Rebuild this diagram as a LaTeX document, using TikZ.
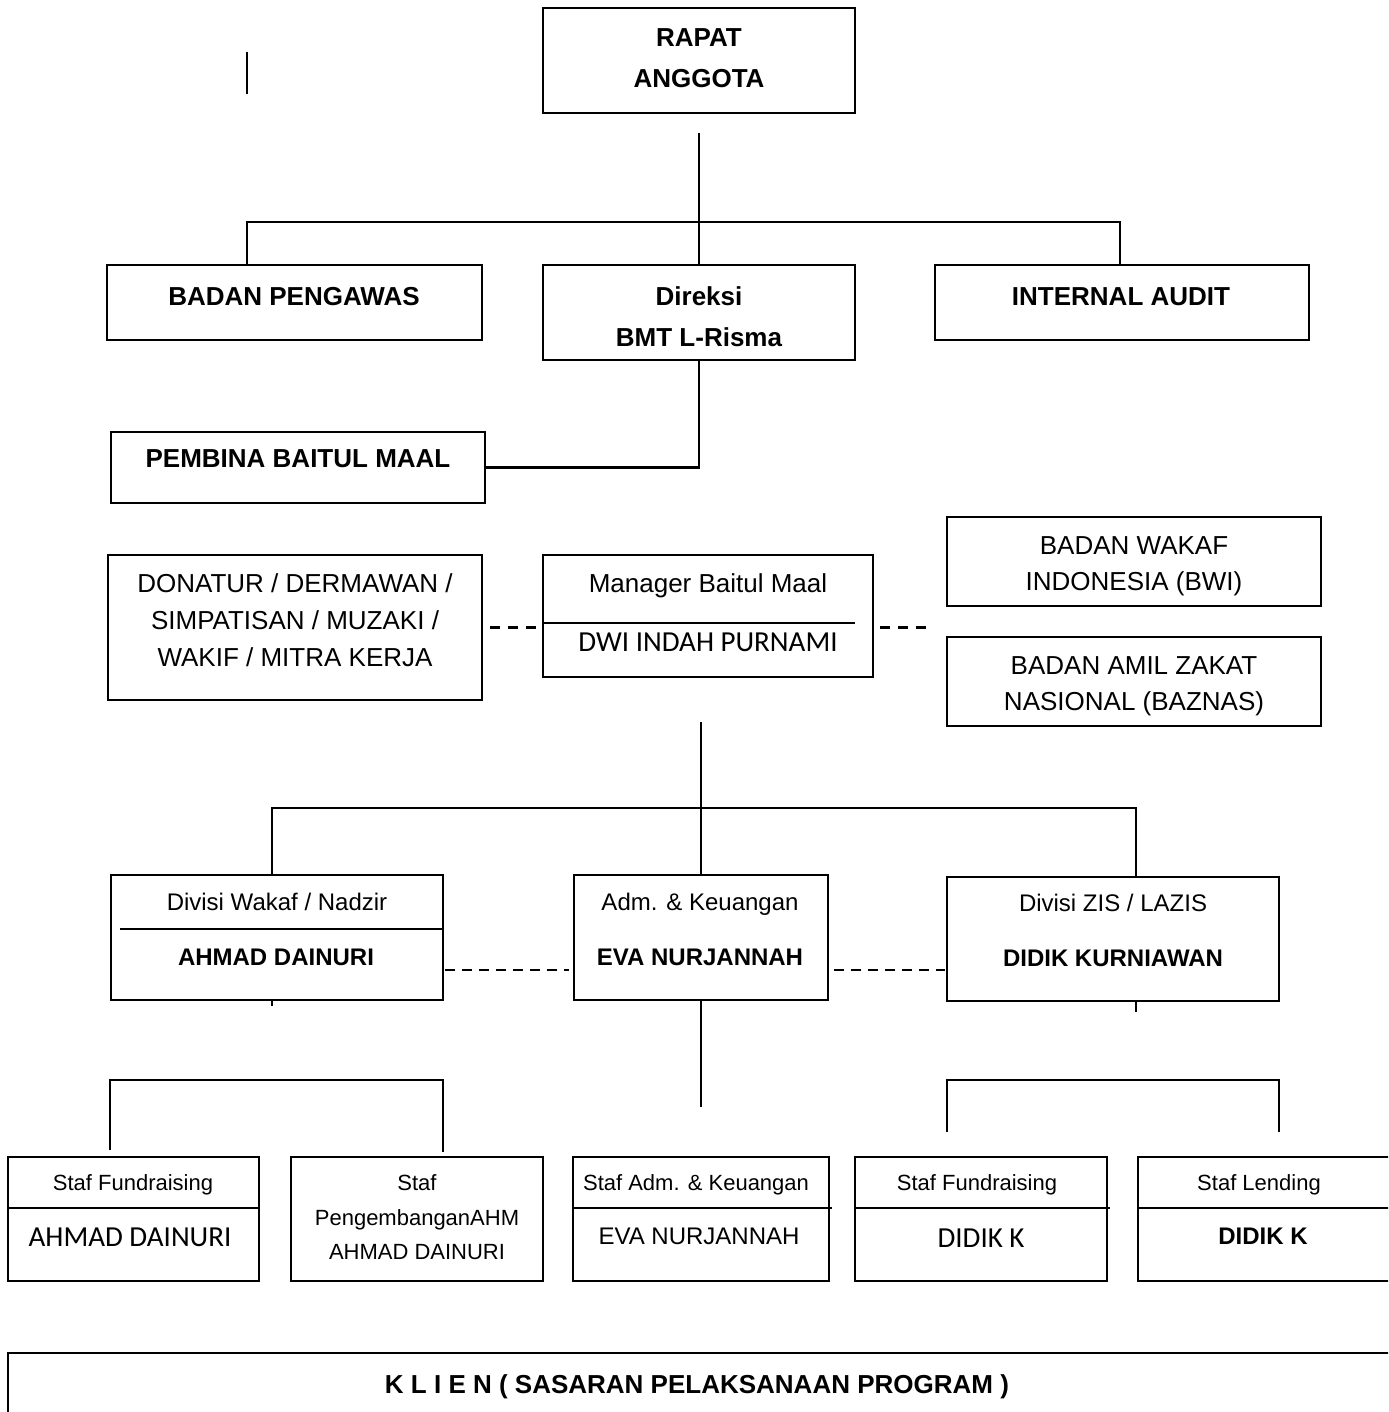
\documentclass[tikz,border=0pt]{standalone}
\usepackage{fontspec}
\setmainfont{Liberation Sans}
\newfontfamily\calibri{Carlito}
\usetikzlibrary{positioning}

\begin{document}
\begin{tikzpicture}[x=1pt,y=-1pt,
  orgbox/.style={draw,line width=2.2pt,inner sep=0pt,outer sep=0pt},
  conn/.style={line width=2.2pt},
  dashline/.style={line width=2.2pt,dash pattern=on 10pt off 8pt},
  hdbold/.style={font=\fontsize{26}{41}\selectfont\bfseries,align=center,text depth=0pt,inner sep=0pt},
  hdreg/.style={font=\fontsize{26}{37}\selectfont,align=center,text depth=0pt,inner sep=0pt},
  divbold/.style={font=\fontsize{24}{34}\selectfont\bfseries,align=center,text depth=0pt,inner sep=0pt},
  divreg/.style={font=\fontsize{24}{34}\selectfont,align=center,text depth=0pt,inner sep=0pt},
  stafreg/.style={font=\fontsize{22}{34.5}\selectfont,align=center,text depth=0pt,inner sep=0pt},
  calname/.style={font=\fontsize{29}{34}\selectfont\calibri,text depth=0pt,inner sep=0pt}]
\useasboundingbox (0,0) rectangle (1388,1412);
\clip (0,0) rectangle (1388,1412);

% top level
\node[orgbox,minimum width=312pt,minimum height=105pt] (rapat) at (699,60.5) {};
\node[hdbold] (rapatT) at (699,58) {RAPAT\\ANGGOTA};
\node[orgbox,minimum width=375pt,minimum height=75pt] (pengawas) at (294.5,302.5) {};
\node[hdbold] (pengawasT) at (294,296) {BADAN PENGAWAS};
\node[orgbox,minimum width=312pt,minimum height=95pt] (direksi) at (699,312.5) {};
\node[hdbold] (direksiT) at (699,317) {Direksi\\BMT L-Risma};
\node[orgbox,minimum width=374pt,minimum height=75pt] (audit) at (1122,302.5) {};
\node[hdbold] (auditT) at (1121,297) {INTERNAL AUDIT};
\node[orgbox,minimum width=374pt,minimum height=71pt] (pembina) at (298,467.5) {};
\node[hdbold] (pembinaT) at (298,459) {PEMBINA BAITUL MAAL};

\coordinate (busL) at (247,222);
\coordinate (busR) at (1120,222);
\draw[conn] (247,52) -- (247,94);
\draw[conn] ([yshift=-20pt]rapat.south) -- (direksi.north);
\draw[conn] (busL |- pengawas.north) -- (busL) -- (busR) -- (busR |- audit.north);
\draw[conn] (direksi.south) |- (pembina.east);

% baitul maal
\node[orgbox,minimum width=374pt,minimum height=145pt] (donatur) at (295,627.5) {};
\node[hdreg] (donaturT) at (295,620) {DONATUR / DERMAWAN /\\SIMPATISAN / MUZAKI /\\WAKIF / MITRA KERJA};
\node[orgbox,minimum width=330pt,minimum height=122pt] (manager) at (708,616) {};
\node[hdreg] (managerT) at (708,583) {Manager Baitul Maal};
\draw[conn] ([yshift=-7pt]manager.west) -- ([xshift=-18pt,yshift=-7pt]manager.east);
\node[calname] (managerN) at (708,642) {DWI INDAH PURNAMI};
\node[orgbox,minimum width=374pt,minimum height=89pt] (bwi) at (1134,561.5) {};
\node[hdreg,font=\fontsize{26}{36}\selectfont] (bwiT) at (1134,564) {BADAN WAKAF\\INDONESIA (BWI)};
\node[orgbox,minimum width=374pt,minimum height=89pt] (baznas) at (1134,681.5) {};
\node[hdreg,font=\fontsize{26}{36}\selectfont] (baznasT) at (1134,684) {BADAN AMIL ZAKAT\\NASIONAL (BAZNAS)};

\draw[dashline] ([xshift=8pt]donatur.east) -- ([xshift=-3pt]donatur.east -| manager.west);
\draw[dashline] ([xshift=7pt]donatur.east -| manager.east) -- ([xshift=-17pt]donatur.east -| bwi.west);

% divisions
\node[orgbox,minimum width=332pt,minimum height=125pt] (wakaf) at (277,937.5) {};
\node[divreg] (wakafT) at (277,902) {Divisi Wakaf / Nadzir};
\draw[conn] ([xshift=9pt,yshift=8.5pt]wakaf.west) -- ([yshift=8.5pt]wakaf.east);
\node[divbold] (wakafN) at (276,957) {AHMAD DAINURI};
\node[orgbox,minimum width=254pt,minimum height=125pt] (adm) at (701,937.5) {};
\node[divreg] (admT) at (700,902) {Adm. \& Keuangan};
\node[divbold] (admN) at (700,957) {EVA NURJANNAH};
\node[orgbox,minimum width=332pt,minimum height=124pt] (zis) at (1113,939) {};
\node[divreg] (zisT) at (1113,903) {Divisi ZIS / LAZIS};
\node[divbold] (zisN) at (1113,958) {DIDIK KURNIAWAN};

\coordinate (busWL) at (272,808);
\coordinate (busWR) at (1136,808);
\draw[conn] ([yshift=-45pt]manager.south -| adm.north) -- (adm.north);
\draw[conn] (busWL |- wakaf.north) -- (busWL) -- (busWR) -- (busWR |- zis.north);
\draw[conn] (busWL |- wakaf.south) -- ++(0,6);
\draw[conn] (busWR |- zis.south) -- ++(0,11);
\draw[dashline,dash pattern=on 10pt off 7pt] ([xshift=2pt,yshift=-32.5pt]wakaf.east) -- ([xshift=-5pt,yshift=-32.5pt]adm.west);
\draw[dashline,dash pattern=on 10pt off 7pt] ([xshift=6pt,yshift=-32.5pt]adm.east) -- ([xshift=-2pt,yshift=-32.5pt]adm.east -| zis.west);

% staff
\node[orgbox,minimum width=251pt,minimum height=124pt] (staf1) at (133.5,1219) {};
\node[stafreg] (staf1T) at (133,1183) {Staf Fundraising};
\draw[conn] ([yshift=11pt]staf1.west) -- ([yshift=11pt]staf1.east);
\node[calname] (staf1N) at (130,1237) {AHMAD DAINURI};
\node[orgbox,minimum width=252pt,minimum height=124pt] (staf2) at (417,1219) {};
\node[stafreg] (staf2T) at (417,1217.5) {Staf\\PengembanganAHM\\AHMAD DAINURI};
\node[orgbox,minimum width=256pt,minimum height=124pt] (staf3) at (701,1219) {};
\node[stafreg] (staf3T) at (696,1183) {Staf Adm. \& Keuangan};
\draw[conn] ([yshift=11pt]staf3.west) -- ([xshift=3pt,yshift=11pt]staf3.east);
\node[divreg] (staf3N) at (699,1236) {EVA NURJANNAH};
\node[orgbox,minimum width=252pt,minimum height=124pt] (staf4) at (981,1219) {};
\node[stafreg] (staf4T) at (977,1183) {Staf Fundraising};
\draw[conn] ([yshift=11pt]staf4.west) -- ([xshift=3pt,yshift=11pt]staf4.east);
\node[calname] (staf4N) at (981,1238) {DIDIK K};
\node[orgbox,minimum width=262pt,minimum height=124pt] (staf5) at (1269,1219) {};
\node[stafreg] (staf5T) at (1259,1183) {Staf Lending};
\draw[conn] ([yshift=11pt]staf5.west) -- ([yshift=11pt]staf5.east);
\node[divbold] (staf5N) at (1263,1236) {DIDIK K};

\coordinate (brL1) at (110,1080);
\coordinate (brL2) at (443,1080);
\coordinate (brR1) at (947,1080);
\coordinate (brR2) at (1279,1080);
\draw[conn] (adm.south) -- ++(0,107);
\draw[conn] ([yshift=7pt]brL1 |- staf1.north) -- (brL1) -- (brL2) -- ([yshift=5pt]brL2 |- staf2.north);
\draw[conn] ([yshift=25pt]brR1 |- staf4.north) -- (brR1) -- (brR2) -- ([yshift=25pt]brR2 |- staf5.north);

% klien
\node[orgbox,minimum width=1392pt,minimum height=72pt] (klien) at (704,1389) {};
\node[hdbold] (klienT) at (697,1384) {K L I E N ( SASARAN PELAKSANAAN PROGRAM )};
\end{tikzpicture}
\end{document}
